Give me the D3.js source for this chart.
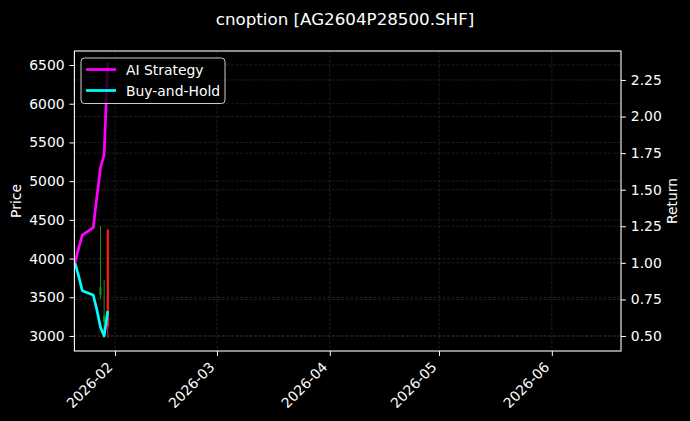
<!DOCTYPE html>
<html>
<head>
<meta charset="utf-8">
<script src="https://cdn.jsdelivr.net/npm/d3@7"></script>
<style>
html,body{margin:0;padding:0;background:#000;}
svg{display:block;}
text{font-family:"DejaVu Sans",sans-serif;fill:#fff;}
</style>
</head>
<body>
<svg id="chart" width="690" height="421"></svg>
<script>
// ---- data ----
const titleText = "cnoption [AG2604P28500.SHF]";
const dates = ["2026-01-21","2026-01-22","2026-01-23","2026-01-26","2026-01-27","2026-01-28","2026-01-29","2026-01-30"];
const aiReturn = [1.00, 1.10, 1.19, 1.24, 1.45, 1.65, 1.74, 2.37];
const bhReturn = [1.00, 0.91, 0.81, 0.78, 0.68, 0.56, 0.50, 0.67];
const candleDates = ["2026-01-28","2026-01-29","2026-01-30"];
const candleOpen  = [3530, 3180, 4370];
const candleHigh  = [4420, 3720, 4385];
const candleLow   = [3480, 3080, 2975];
const candleClose = [3630, 3260, 3120];
const xDomain = ["2026-01-20T20:00:00Z", "2026-06-20T00:00:00Z"];
const priceDomain = [2806, 6681];
const returnDomain = [0.3975, 2.448];
const priceTicks = [3000, 3500, 4000, 4500, 5000, 5500, 6000, 6500];
const returnTicks = [0.50, 0.75, 1.00, 1.25, 1.50, 1.75, 2.00, 2.25];
const monthTicks = ["2026-02-01","2026-03-01","2026-04-01","2026-05-01","2026-06-01"];
const legendLabels = ["AI Strategy", "Buy-and-Hold"];

// ---- layout ----
const L = 74.4, R = 621, T = 51, B = 351;
const svg = d3.select("#chart");
svg.append("rect").attr("width",690).attr("height",421).attr("fill","#000");

const parse = s => new Date(s.length > 10 ? s : s + "T00:00:00Z");
const x = d3.scaleUtc().domain(xDomain.map(parse)).range([L, R]);
const yP = d3.scaleLinear().domain(priceDomain).range([B, T]);
const yR = d3.scaleLinear().domain(returnDomain).range([B, T]);

const gridStyle = g => g.attr("stroke","#b0b0b0").attr("stroke-opacity",0.25)
  .attr("stroke-width",0.7).attr("stroke-dasharray","3,1.6");

// grid
const grid = svg.append("g");
monthTicks.map(parse).forEach(d => {
  gridStyle(grid.append("line").attr("x1",x(d)).attr("x2",x(d)).attr("y1",T).attr("y2",B));
});
priceTicks.forEach(v => {
  gridStyle(grid.append("line").attr("x1",L).attr("x2",R).attr("y1",yP(v)).attr("y2",yP(v)));
});
returnTicks.forEach(v => {
  gridStyle(grid.append("line").attr("x1",L).attr("x2",R).attr("y1",yR(v)).attr("y2",yR(v)));
});

// candles
const dayPx = x(parse("2026-01-02")) - x(parse("2026-01-01"));
const cw = 0.6 * dayPx;
const candles = candleDates.map((d,i) => ({d: parse(d), o: candleOpen[i], h: candleHigh[i], l: candleLow[i], c: candleClose[i]}));
const cg = svg.append("g");
candles.forEach(k => {
  const col = k.c >= k.o ? "#1f8a1f" : "#ff1a1a";
  cg.append("line").attr("x1",x(k.d)).attr("x2",x(k.d)).attr("y1",yP(k.h)).attr("y2",yP(k.l))
    .attr("stroke",col).attr("stroke-width",1);
  cg.append("rect").attr("x",x(k.d)-cw/2).attr("width",cw)
    .attr("y",yP(Math.max(k.o,k.c))).attr("height",Math.max(1,Math.abs(yP(k.o)-yP(k.c))))
    .attr("fill",col);
});

// return lines
const pts = dates.map(parse);
const line = d3.line().x(d => x(d[0])).y(d => yR(d[1]));
svg.append("path").datum(pts.map((d,i)=>[d,bhReturn[i]])).attr("d",line)
  .attr("fill","none").attr("stroke","#00ffff").attr("stroke-width",2.7).attr("stroke-linejoin","round");
svg.append("path").datum(pts.map((d,i)=>[d,aiReturn[i]])).attr("d",line)
  .attr("fill","none").attr("stroke","#ff00ff").attr("stroke-width",2.7).attr("stroke-linejoin","round");

// axes
const axStyle = g => {
  g.select(".domain").remove();
  g.selectAll(".tick line").attr("stroke","#fff").attr("stroke-width",1);
  g.selectAll(".tick text").attr("fill","#fff").style("font-size","13.9px").style("font-family","DejaVu Sans");
};
const xAxis = svg.append("g").attr("transform",`translate(0,${B})`)
  .call(d3.axisBottom(x).tickValues(monthTicks.map(parse)).tickFormat(d3.utcFormat("%Y-%m")).tickSize(4.9).tickPadding(4.9));
axStyle(xAxis);
xAxis.selectAll(".tick text").attr("text-anchor","end").attr("dy",null).attr("y",null)
  .attr("transform","translate(-2,17) rotate(-45)");

const yAxisL = svg.append("g").attr("transform",`translate(${L},0)`)
  .call(d3.axisLeft(yP).tickValues(priceTicks).tickFormat(d3.format("d")).tickSize(4.9).tickPadding(4.9));
axStyle(yAxisL);
const yAxisR = svg.append("g").attr("transform",`translate(${R},0)`)
  .call(d3.axisRight(yR).tickValues(returnTicks).tickFormat(d3.format(".2f")).tickSize(4.9).tickPadding(4.9));
axStyle(yAxisR);

// frame
svg.append("rect").attr("x",L).attr("y",T).attr("width",R-L).attr("height",B-T)
  .attr("fill","none").attr("stroke","#fff").attr("stroke-width",1.1);

// labels
svg.append("text").attr("transform",`translate(21,${(T+B)/2}) rotate(-90)`)
  .attr("text-anchor","middle").style("font-size","13.9px").text("Price");
svg.append("text").attr("transform",`translate(677,${(T+B)/2}) rotate(-90)`)
  .attr("text-anchor","middle").style("font-size","13.9px").text("Return");
svg.append("text").attr("x",345).attr("y",25).attr("text-anchor","middle")
  .style("font-size","16.7px").text(titleText);

// legend
const lg = svg.append("g");
lg.append("rect").attr("x",81).attr("y",58).attr("width",144).attr("height",45.5).attr("rx",3.5)
  .attr("fill","#000").attr("fill-opacity",0.8).attr("stroke","#cccccc").attr("stroke-width",1);
const lcols = ["#ff00ff","#00ffff"];
legendLabels.forEach((t,i) => {
  const yy = 69.5 + i*21;
  lg.append("line").attr("x1",86).attr("x2",116).attr("y1",yy).attr("y2",yy)
    .attr("stroke",lcols[i]).attr("stroke-width",2.7);
  lg.append("text").attr("x",126).attr("y",yy+5).style("font-size","13.9px").text(t);
});
</script>
</body>
</html>
